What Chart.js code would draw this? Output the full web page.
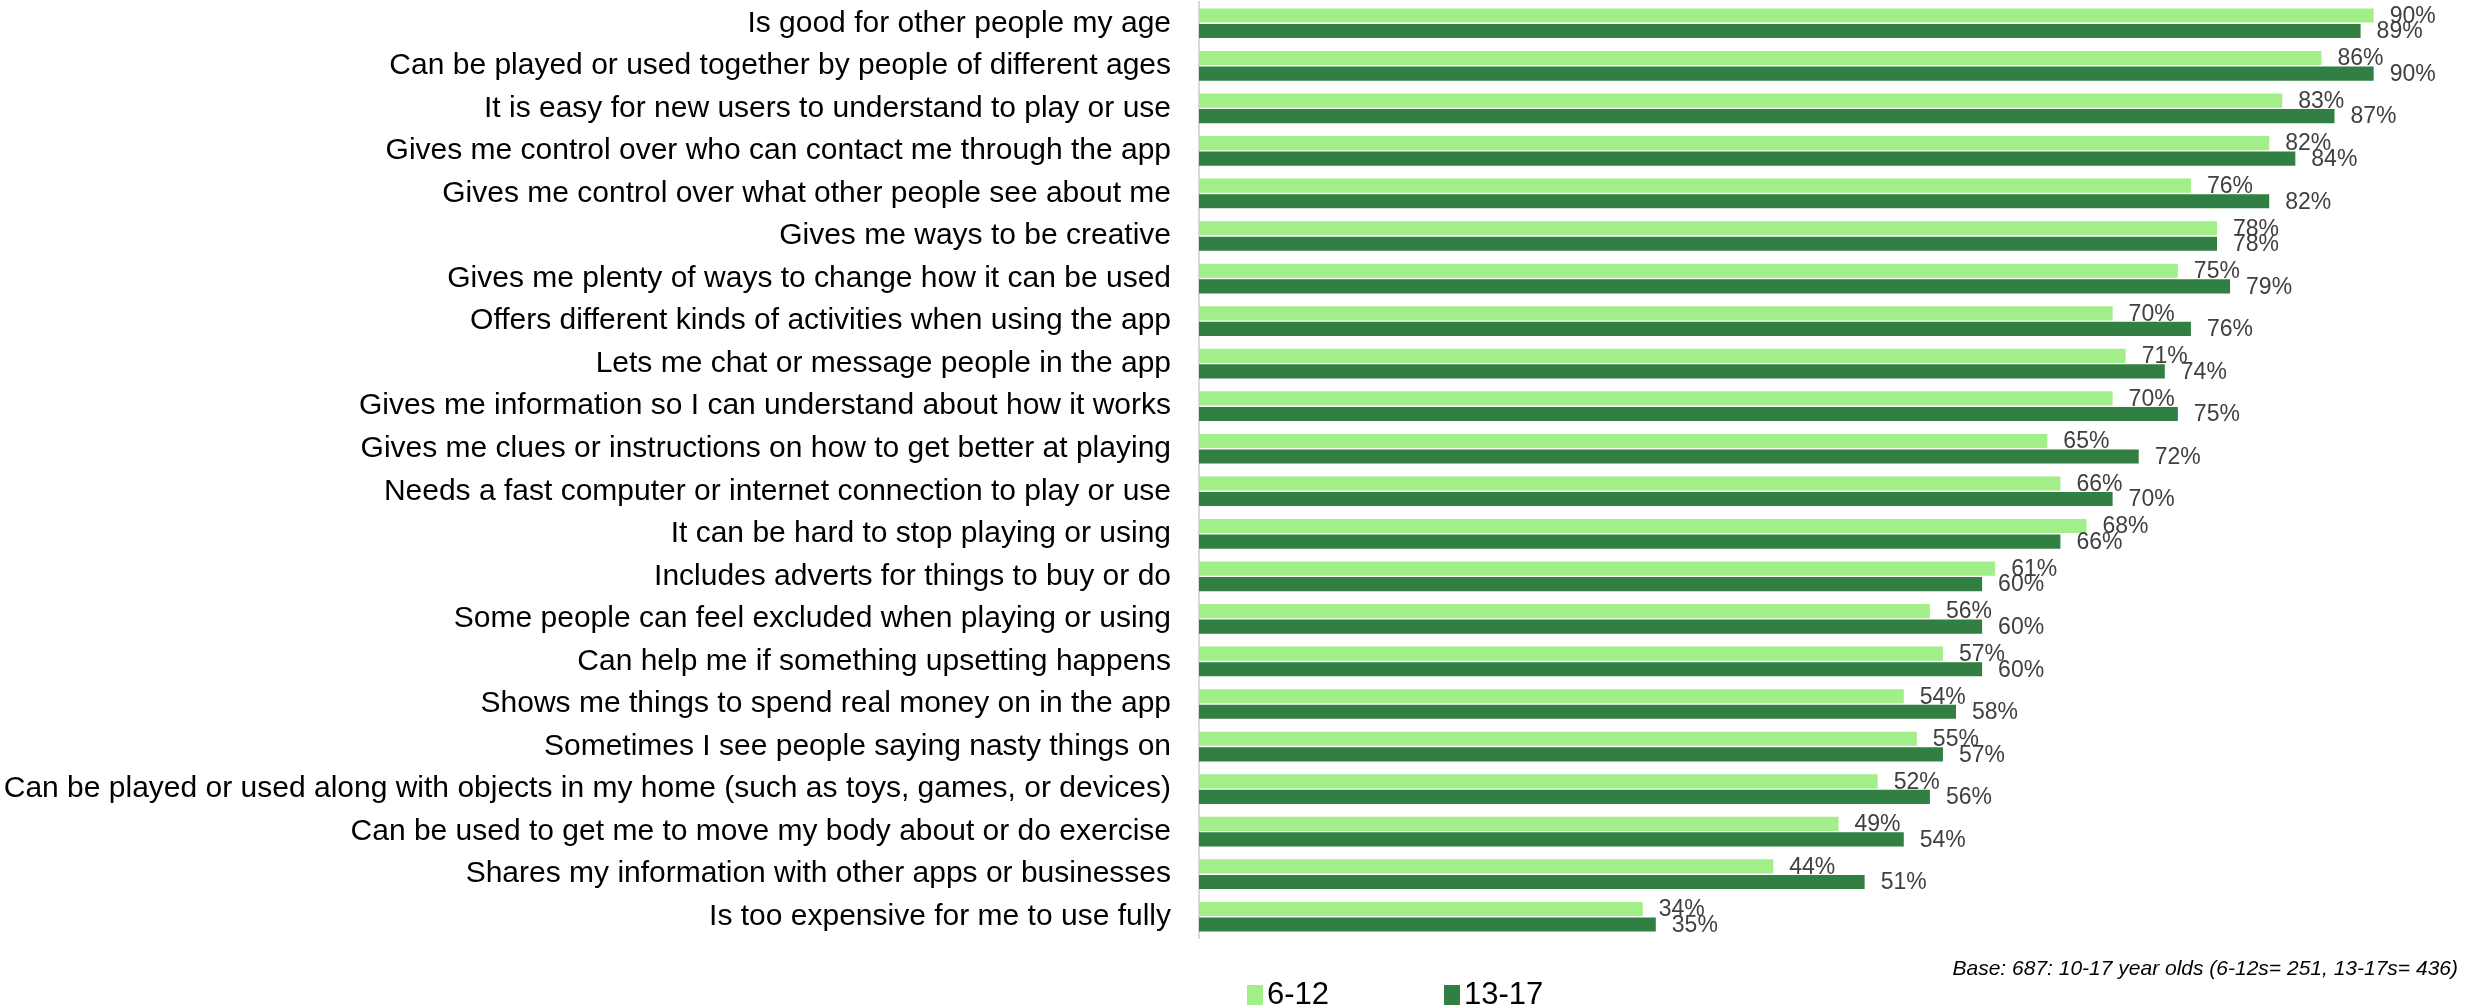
<!DOCTYPE html>
<html>
<head>
<meta charset="utf-8">
<script src="https://cdn.jsdelivr.net/npm/chart.js@4.4.0/dist/chart.umd.min.js"></script>
<style>
  body { margin: 0; background: #fff; }
  #wrap { width: 2468px; height: 1005px; }
</style>
</head>
<body>
<div id="wrap"><canvas id="myChart" width="2468" height="1005"></canvas></div>
<script>
/* DATA */
const categorias = [
  "Is good for other people my age",
  "Can be played or used together by people of different ages",
  "It is easy for new users to understand to play or use",
  "Gives me control over who can contact me through the app",
  "Gives me control over what other people see about me",
  "Gives me ways to be creative",
  "Gives me plenty of ways to change how it can be used",
  "Offers different kinds of activities when using the app",
  "Lets me chat or message people in the app",
  "Gives me information so I can understand about how it works",
  "Gives me clues or instructions on how to get better at playing",
  "Needs a fast computer or internet connection to play or use",
  "It can be hard to stop playing or using",
  "Includes adverts for things to buy or do",
  "Some people can feel excluded when playing or using",
  "Can help me if something upsetting happens",
  "Shows me things to spend real money on in the app",
  "Sometimes I see people saying nasty things on",
  "Can be played or used along with objects in my home (such as toys, games, or devices)",
  "Can be used to get me to move my body about or do exercise",
  "Shares my information with other apps or businesses",
  "Is too expensive for me to use fully"
]
const edad6a12 = [90, 86, 83, 82, 76, 78, 75, 70, 71, 70, 65, 66, 68, 61, 56, 57, 54, 55, 52, 49, 44, 34]
const edad13a17 = [89, 90, 87, 84, 82, 78, 79, 76, 74, 75, 72, 70, 66, 60, 60, 60, 58, 57, 56, 54, 51, 35]
const seriesNombres = ["6-12", "13-17"]
const notaBase = "Base: 687: 10-17 year olds (6-12s= 251, 13-17s= 436)"

/* PLUGINS */
const etiquetasValor = {
  id: "etiquetasValor",
  afterDatasetsDraw(chart) {
    const ctx = chart.ctx
    ctx.save()
    ctx.font = "23px 'Liberation Sans'"
    ctx.fillStyle = "#404040"
    ctx.textAlign = "left"
    ctx.textBaseline = "middle"
    chart.data.datasets.forEach((ds, i) => {
      const meta = chart.getDatasetMeta(i)
      meta.data.forEach((bar, j) => {
        ctx.fillText(ds.data[j] + "%", bar.x + 16, bar.y + 1)
      })
    })
    ctx.restore()
  }
}

const leyendaYNota = {
  id: "leyendaYNota",
  afterDraw(chart) {
    const ctx = chart.ctx
    ctx.save()
    const posX = [1247, 1444]
    ctx.font = "31px 'Liberation Sans'"
    ctx.textBaseline = "middle"
    ctx.textAlign = "left"
    chart.data.datasets.forEach((ds, i) => {
      ctx.fillStyle = ds.backgroundColor
      ctx.fillRect(posX[i], 985, 16, 20)
      ctx.fillStyle = "#000"
      ctx.fillText(ds.label, posX[i] + 20, 995)
    })
    ctx.font = "italic 21px 'Liberation Sans'"
    ctx.fillStyle = "#000"
    ctx.textAlign = "right"
    ctx.fillText(notaBase, 2458, 969)
    ctx.restore()
  }
}

/* GRAFICO */
const config = {
  type: "bar",
  data: {
    labels: categorias,
    datasets: [
      { label: seriesNombres[0], data: edad6a12, backgroundColor: "#a2ee88" },
      { label: seriesNombres[1], data: edad13a17, backgroundColor: "#317f42" }
    ]
  },
  options: {
    indexAxis: "y",
    responsive: false,
    animation: false,
    devicePixelRatio: 1,
    layout: { padding: { top: 2, right: 3, bottom: 67, left: 0 } },
    datasets: { bar: { categoryPercentage: 0.73, barPercentage: 0.91 } },
    plugins: { legend: { display: false }, tooltip: { enabled: false } },
    scales: {
      x: { display: false, min: 0, max: 97 },
      y: {
        grid: { display: false, drawTicks: false },
        border: { display: true, color: "#d9d9d9", width: 2 },
        ticks: { color: "#000", padding: 28, font: { family: "'Liberation Sans'", size: 30 } },
        afterFit(scale) {
          scale.width = 1199
          scale.paddingTop = 0
          scale.paddingBottom = 0
        }
      }
    }
  },
  plugins: [etiquetasValor, leyendaYNota]
}

new Chart(document.querySelector("#myChart"), config)
</script>
</body>
</html>
